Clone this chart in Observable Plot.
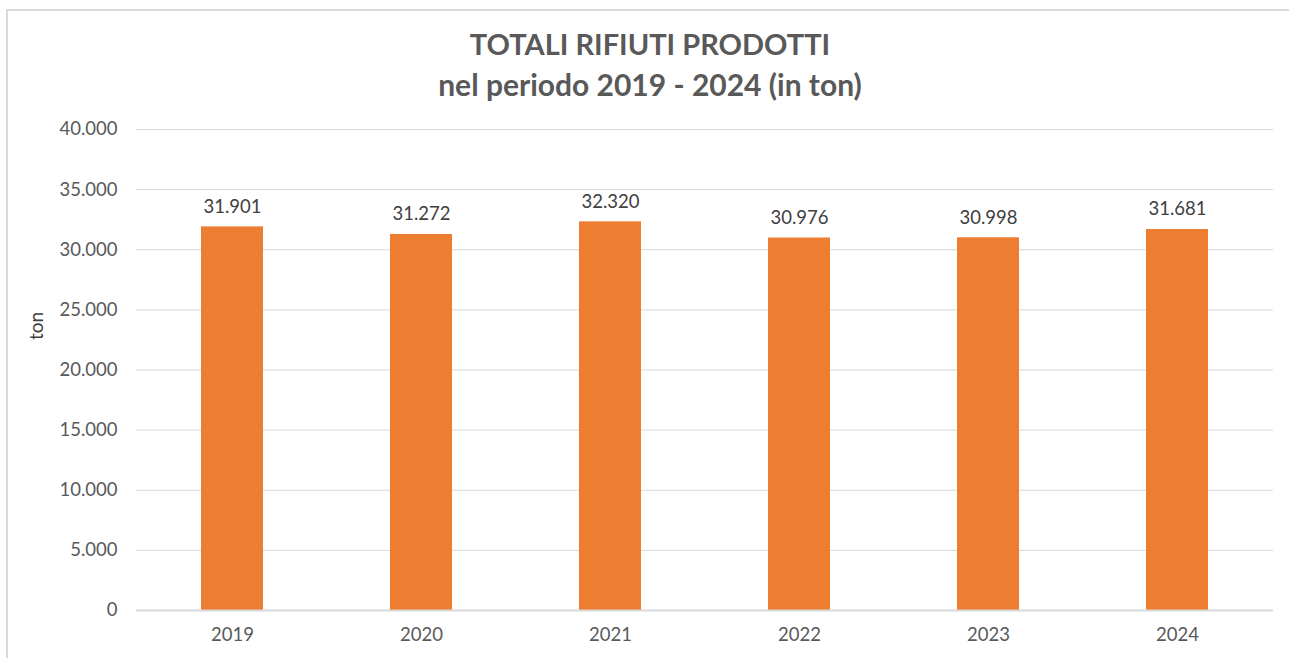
<!DOCTYPE html>
<html><head><meta charset="utf-8">
<script src="https://cdn.jsdelivr.net/npm/d3@7"></script>
<script src="https://cdn.jsdelivr.net/npm/@observablehq/plot@0.6"></script>
<style>
html,body{margin:0;padding:0;overflow:hidden}
body{background:#fff;font-family:Lato,"Open Sans",sans-serif;width:1289px;height:658px;position:relative}
#bt{position:absolute;left:6px;top:9px;width:1283px;height:2px;background:#d9d9d9}
#bl{position:absolute;left:6px;top:9px;width:2px;height:649px;background:#d9d9d9}
#title{position:absolute;left:0;top:24px;width:1300px;text-align:center;color:#595959;font-weight:bold;font-size:29px;line-height:40px}
#title .l2{font-size:30px}
#ylab{position:absolute;left:35px;top:326px;transform:translate(-50%,-50%) rotate(-90deg);color:#404040;font-size:19px}
#chart{position:absolute;left:0;top:100px}
</style></head><body>
<div id="bt"></div><div id="bl"></div>
<div id="title">TOTALI RIFIUTI PRODOTTI<br><span class="l2">nel periodo 2019 - 2024 (in ton)</span></div>
<div id="ylab">ton</div>
<div id="chart"></div>
<script>
const years = ["2019","2020","2021","2022","2023","2024"];
const totals = [31901, 31272, 32320, 30976, 30998, 31681];
const yTicks = [0,5000,10000,15000,20000,25000,30000,35000,40000];

const data = years.map((y,i)=>({year:y, value:totals[i]}));
const it = d3.formatLocale({decimal:",", thousands:".", grouping:[3], currency:["€",""]});
const fmt = it.format(",d");

const plot = Plot.plot({
  width:1289, height:558,
  marginLeft:136, marginRight:16, marginTop:29, marginBottom:48,
  style:{fontFamily:"Lato, 'Open Sans', sans-serif", fontSize:"18.5px", color:"#595959"},
  x:{domain:years, paddingInner:0.673, paddingOuter:0.3365, label:null, tickSize:0, tickPadding:17},
  y:{domain:[0,40000], label:null, ticks:yTicks, tickFormat:fmt, tickSize:0, tickPadding:19},
  marks:[
    Plot.gridY(yTicks.filter(d=>d>0), {stroke:"#d9d9d9", strokeOpacity:1, strokeWidth:1}),
    Plot.barY(data, {x:"year", y:"value", fill:"#ED7D31"}),
    Plot.ruleY([0], {stroke:"#d9d9d9", strokeWidth:2}),
    Plot.text(data, {x:"year", y:"value", text:d=>fmt(d.value), dy:-20, fill:"#404040", fontSize:18.5})
  ]
});
document.getElementById("chart").appendChild(plot);
</script>
</body></html>
